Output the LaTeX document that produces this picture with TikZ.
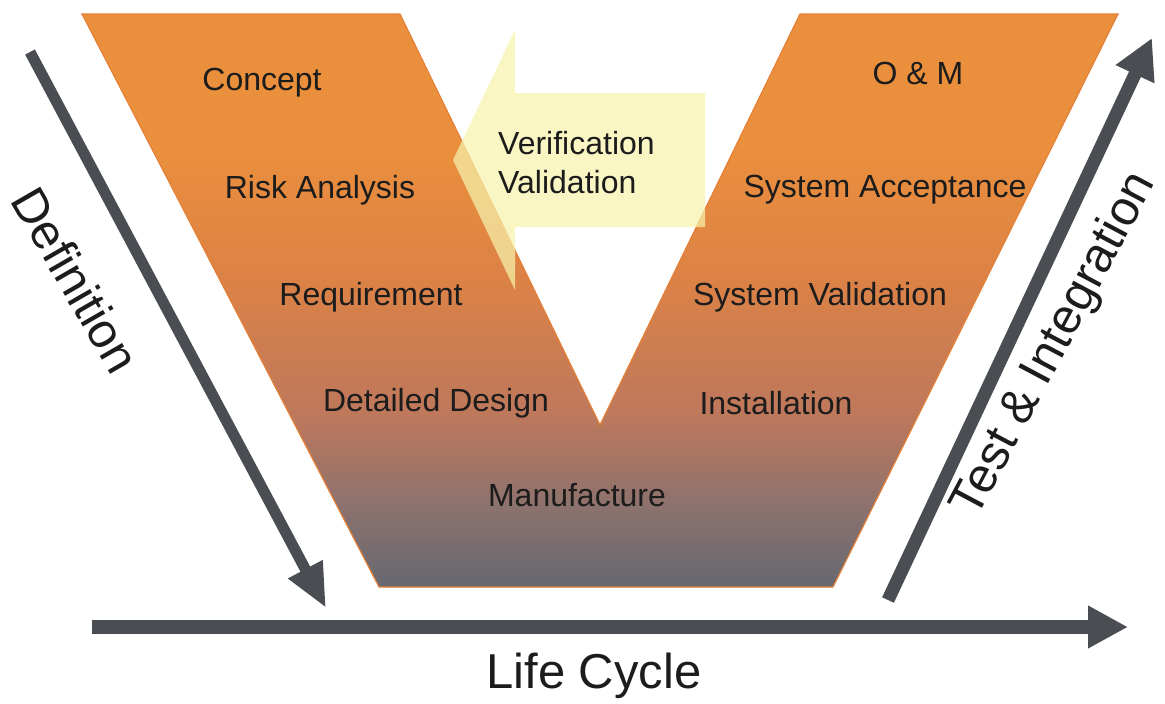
\documentclass[tikz,border=0pt]{standalone}
\usepackage{fontspec}
\setmainfont{Liberation Sans}
\usetikzlibrary{arrows.meta}
\definecolor{vorange}{RGB}{234,143,60}
\definecolor{vorangeb}{RGB}{220,130,70}
\definecolor{vbrown}{RGB}{190,120,92}
\definecolor{vgraybrown}{RGB}{140,114,110}
\definecolor{vgray}{RGB}{102,104,112}
\definecolor{vedge}{RGB}{228,128,55}
\definecolor{arrowgray}{RGB}{74,77,82}
\definecolor{vvfill}{RGB}{246,243,172}
\definecolor{txt}{RGB}{28,28,28}
\pgfdeclareverticalshading{vgrad}{100bp}{color(0bp)=(vgray); color(25bp)=(vgray); color(32bp)=(vgraybrown); color(40bp)=(vbrown); color(52bp)=(vorangeb); color(63bp)=(vorange); color(100bp)=(vorange)}
\tikzset{
  lab/.style={font=\fontsize{32}{36}\selectfont, text=txt, inner sep=0pt},
  biglab/.style={font=\fontsize{49}{56}\selectfont, text=txt, inner sep=0pt},
  arr/.style={draw=arrowgray, -{Triangle[length=42pt,width=38pt]}},
}
\begin{document}
\begin{tikzpicture}[x=1pt,y=-1pt]
\path[use as bounding box] (0,0) rectangle (1165,704);
% V shape
\shade[shading=vgrad, draw=vedge, line width=1.2pt, line join=miter]
  (82,14) -- (400,14) -- (600,425) -- (800,14) -- (1118,14) -- (833,587) -- (379,587) -- cycle;
% verification arrow (translucent)
\fill[vvfill, opacity=0.72]
  (705,93) -- (515,93) -- (515,30) -- (453,160) -- (515,290) -- (515,227) -- (705,227) -- cycle;
\node[lab, anchor=west] (ver) at (498,143) {Verification};
\node[lab, anchor=west] (val) at (498,182) {Validation};
% labels left
\node[lab] (concept) at (262,83) {Concept};
\node[lab] (risk) at (320,190) {Risk Analysis};
\node[lab] (req) at (371,297) {Requirement};
\node[lab] (dd) at (436,403) {Detailed Design};
\node[lab] (manu) at (577,495) {Manufacture};
% labels right
\node[lab] (om) at (918,73) {O \& M};
\node[lab] (sa) at (885,190) {System Acceptance};
\node[lab] (sv) at (820,297) {System Validation};
\node[lab] (inst) at (776,403) {Installation};
% axes arrows
\coordinate (d1) at (30,52);
\coordinate (d2) at (326,608);
\draw[arr, line width=11pt, -{Triangle[length=44pt,width=36pt]}] (d1) -- (d2);
\coordinate (l1) at (92,627);
\coordinate (l2) at (1128,627);
\draw[arr, line width=14pt, -{Triangle[length=40pt,width=40pt]}] (l1) -- (l2);
\coordinate (t1) at (888,600);
\coordinate (t2) at (1152,38);
\draw[arr, line width=13pt, -{Triangle[length=40pt,width=40pt]}] (t1) -- (t2);
% axis labels
\node[biglab] (life) at (594,676) {Life Cycle};
\node[biglab, rotate=-60] (def) at (76,280) {Definition};
\node[biglab, rotate=62] (test) at (1055,345) {Test \& Integration};
\end{tikzpicture}
\end{document}
